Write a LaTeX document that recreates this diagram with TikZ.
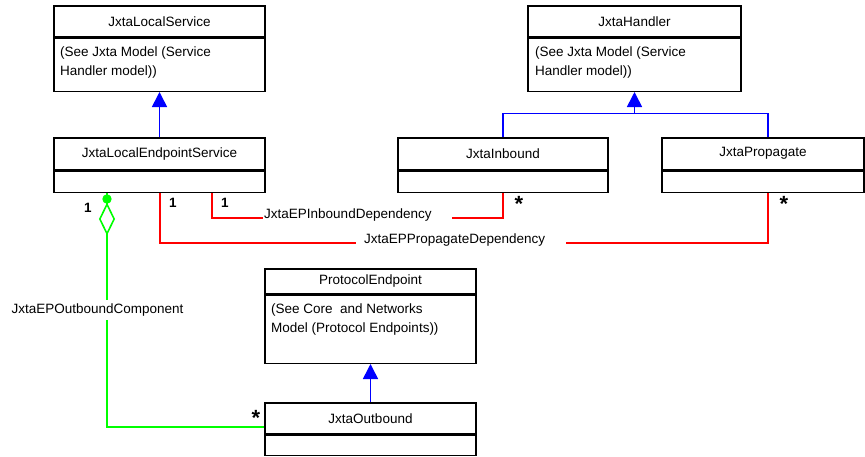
\documentclass[tikz,border=0pt]{standalone}
\usepackage{fontspec}
\setmainfont{Liberation Sans}
\usetikzlibrary{arrows.meta,shapes.geometric}
\definecolor{umlgreen}{RGB}{0,255,0}
\begin{document}
\begin{tikzpicture}[x=1pt,y=-1pt,
  every node/.style={font=\fontsize{13.5}{18.5}\selectfont},
  cname/.style={draw=black, line width=1.5pt, fill=white, inner sep=0, anchor=north},
  cbody/.style={draw=black, line width=1.5pt, fill=white, inner sep=0, anchor=north},
  desc/.style={anchor=north west, align=left, inner sep=0},
  gen/.style={draw=blue, line width=1.6pt, -{Triangle[width=15pt,length=15pt,fill=blue]}},
  bl/.style={draw=blue, line width=1.6pt},
  dep/.style={draw=red, line width=1.6pt},
  comp/.style={draw=umlgreen, line width=1.6pt},
  lbl/.style={fill=white, inner sep=0},
  mult/.style={font=\fontsize{13.5}{15}\selectfont\bfseries, inner sep=0},
  star/.style={font=\fontsize{22}{24}\selectfont\bfseries, inner sep=0}
]
\useasboundingbox (0,0) rectangle (865,456);

% JxtaLocalService
\node[cname, minimum width=211, minimum height=31] (ls) at (159.5,5) {JxtaLocalService};
\node[cbody, minimum width=211, minimum height=53] (lsb) at (ls.south) {};
\node[desc] (lsd) at (60,47) {(See Jxta Model (Service\\Handler model))};

% JxtaLocalEndpointService
\node[cname, minimum width=211, minimum height=32] (lep) at (159.5,137) {JxtaLocalEndpointService};
\node[cbody, minimum width=211, minimum height=21] (lepb) at (lep.south) {};

% JxtaHandler
\node[cname, minimum width=213, minimum height=31] (hd) at (634.5,5) {JxtaHandler};
\node[cbody, minimum width=213, minimum height=53] (hdb) at (hd.south) {};
\node[desc] (hdd) at (535,47) {(See Jxta Model (Service\\Handler model))};

% JxtaInbound
\node[cname, minimum width=210, minimum height=32] (inb) at (503,137) {JxtaInbound};
\node[cbody, minimum width=210, minimum height=21] (inbb) at (inb.south) {};

% JxtaPropagate
\node[cname, minimum width=202, minimum height=32] (prp) at (763,137) {JxtaPropagate};
\node[cbody, minimum width=202, minimum height=21] (prpb) at (prp.south) {};

% ProtocolEndpoint
\node[cname, minimum width=211, minimum height=25] (pe) at (370.5,268) {ProtocolEndpoint};
\node[cbody, minimum width=211, minimum height=68] (peb) at (pe.south) {};
\node[desc] (ped) at (271,304) {(See Core\ \ and Networks\\Model (Protocol Endpoints))};

% JxtaOutbound
\node[cname, minimum width=211, minimum height=31] (outb) at (370.5,402) {JxtaOutbound};
\node[cbody, minimum width=211, minimum height=20] (outbb) at (outb.south) {};

% generalizations
\draw[gen] (lep.north) -- (lsb.south);
\draw[gen] (outb.north) -- (peb.south);
\coordinate (hj) at ([yshift=-21.5]hdb.south);
\draw[gen] (hj) -- (hdb.south);
\draw[bl] (inb.north) |- (hj) -| ([xshift=5]prp.north);

% dependencies
\draw[dep] ([xshift=52.5]lepb.south) |- ([yshift=-25]inbb.south) -- (inbb.south);
\draw[dep] ([xshift=0.5]lepb.south) |- ([xshift=5,yshift=-50]prpb.south) -- ([xshift=5]prpb.south);
\node[lbl, anchor=west, inner xsep=1, text width=187, align=left, minimum height=18] (l1) at (263,215) {JxtaEPInboundDependency};
\node[lbl, anchor=west, inner xsep=8, text width=194, align=left, minimum height=18] (l2) at (356,240) {JxtaEPPropagateDependency};

% composition
\draw[comp] ([xshift=-52.5]lepb.south) |- ([yshift=-8.5]outb.west);
\node[diamond, draw=umlgreen, line width=1.6pt, fill=white, inner sep=0, minimum width=15, minimum height=30] (dm) at ([xshift=-52.5,yshift=-26]lepb.south) {};
\fill[umlgreen] ([xshift=-52.5,yshift=-6]lepb.south) circle (4.7);
\node[lbl, minimum height=20] (l3) at (97.5,310) {JxtaEPOutboundComponent};

% multiplicities
\node[mult] (m1) at (88,208) {1};
\node[mult] (m2) at (173,203) {1};
\node[mult] (m3) at (225,203) {1};
\node[star] (s1) at (519,204) {*};
\node[star] (s2) at (784,204) {*};
\node[star] (s3) at (256,418) {*};
\end{tikzpicture}
\end{document}
